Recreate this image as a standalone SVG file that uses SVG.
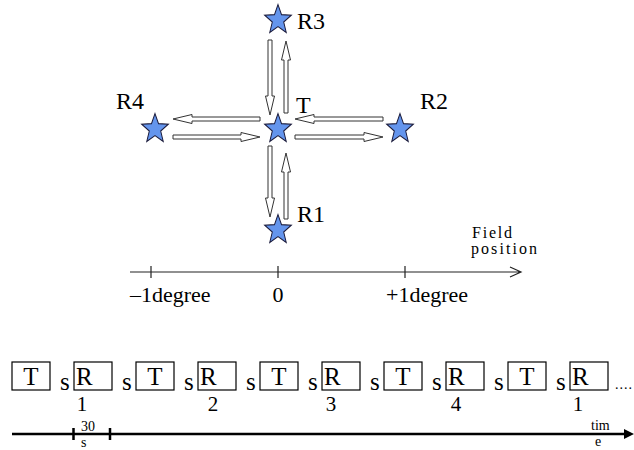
<svg xmlns="http://www.w3.org/2000/svg" width="634" height="450" viewBox="0 0 634 450" font-family="'Liberation Serif', 'Times New Roman', 'DejaVu Serif', serif">
<style>
text{font-family:'Liberation Serif','Times New Roman','DejaVu Serif',serif;fill:#000}
.lbl{font-size:24px}
.star{fill:#6495ed;stroke:#1a1a3a;stroke-width:1}
.arr{fill:#fff;stroke:#333;stroke-width:1;stroke-linejoin:miter}
.box{fill:#fff;stroke:#000;stroke-width:1.2}
.bt{font-size:25px}
.ax{stroke:#222;stroke-width:1.2;fill:none}
.tax{stroke:#000;stroke-width:2.5;fill:none}
.sm{font-size:14px}
.ax-t{font-size:22px}
.num{font-size:21px}
.fp{font-size:16px}
</style>
<defs>
<path id="st" d="M0,-14 L3.53,-4.85 L13.31,-4.33 L5.71,1.85 L8.23,11.33 L0,6 L-8.23,11.33 L-5.71,1.85 L-13.31,-4.33 L-3.53,-4.85 Z"/>
</defs>
<g id="R3"><use href="#st" class="star" transform="translate(278,20) scale(1,1.1)"/><text class="lbl" x="297" y="29">R3</text></g>
<g id="T"><use href="#st" class="star" transform="translate(278,129) scale(1,1.1)"/><text class="lbl" x="296" y="113">T</text></g>
<g id="R4"><use href="#st" class="star" transform="translate(155,129) scale(1,1.1)"/><text class="lbl" x="116" y="109">R4</text></g>
<g id="R2"><use href="#st" class="star" transform="translate(400,129) scale(1,1.1)"/><text class="lbl" x="420" y="109">R2</text></g>
<g id="R1"><use href="#st" class="star" transform="translate(278,230) scale(1,1.1)"/><text class="lbl" x="297" y="222">R1</text></g>
<g id="connectors">
<polygon class="arr" points="260,117 192,117 192,114.5 173,119 192,123.5 192,121 260,121"/>
<polygon class="arr" points="173,135 241,135 241,132.5 260,137 241,141.5 241,139 173,139"/>
<polygon class="arr" points="383,117 314,117 314,114.5 295,119 314,123.5 314,121 383,121"/>
<polygon class="arr" points="295,135 364,135 364,132.5 383,137 364,141.5 364,139 295,139"/>
<polygon class="arr" points="268,40 268,96 265.5,96 270,115 274.5,96 272,96 272,40"/>
<polygon class="arr" points="284,113 284,60 281.5,60 286,41 290.5,60 288,60 288,113"/>
<polygon class="arr" points="268,146 268,198 265.5,198 270,217 274.5,198 272,198 272,146"/>
<polygon class="arr" points="284,219 284,172 281.5,172 286,153 290.5,172 288,172 288,219"/>
</g>
<g id="field-axis">
<path class="ax" d="M130,272 H521 M510,267 L521,272 L510,277 M151,266 V278 M278,266 V278 M405,266 V278"/>
<text class="ax-t" x="130" y="302">–1degree</text>
<text class="ax-t" x="278" y="302" text-anchor="middle">0</text>
<text class="ax-t" x="386" y="302">+1degree</text>
<text class="fp" x="472" y="238" textLength="40">Field</text>
<text class="fp" x="471" y="254" textLength="66">position</text>
</g>
<g id="timeline">
<g id="b1"><rect class="box" x="12" y="362" width="38" height="28"/><text class="bt" x="31" y="385" text-anchor="middle">T</text></g>
<text class="bt" x="60" y="390">s</text>
<g id="b2"><rect class="box" x="74" y="362" width="38" height="28"/><text class="bt" x="76" y="385">R</text><text class="num" x="82" y="411" text-anchor="middle">1</text></g>
<text class="bt" x="122" y="390">s</text>
<g id="b3"><rect class="box" x="136" y="362" width="38" height="28"/><text class="bt" x="155" y="385" text-anchor="middle">T</text></g>
<text class="bt" x="184" y="390">s</text>
<g id="b4"><rect class="box" x="198" y="362" width="38" height="28"/><text class="bt" x="200" y="385">R</text><text class="num" x="213" y="411" text-anchor="middle">2</text></g>
<text class="bt" x="246" y="390">s</text>
<g id="b5"><rect class="box" x="260" y="362" width="38" height="28"/><text class="bt" x="279" y="385" text-anchor="middle">T</text></g>
<text class="bt" x="308" y="390">s</text>
<g id="b6"><rect class="box" x="322" y="362" width="38" height="28"/><text class="bt" x="324" y="385">R</text><text class="num" x="331" y="411" text-anchor="middle">3</text></g>
<text class="bt" x="370" y="390">s</text>
<g id="b7"><rect class="box" x="384" y="362" width="38" height="28"/><text class="bt" x="403" y="385" text-anchor="middle">T</text></g>
<text class="bt" x="432" y="390">s</text>
<g id="b8"><rect class="box" x="446" y="362" width="38" height="28"/><text class="bt" x="448" y="385">R</text><text class="num" x="456" y="411" text-anchor="middle">4</text></g>
<text class="bt" x="494" y="390">s</text>
<g id="b9"><rect class="box" x="508" y="362" width="38" height="28"/><text class="bt" x="527" y="385" text-anchor="middle">T</text></g>
<text class="bt" x="556" y="390">s</text>
<g id="b10"><rect class="box" x="570" y="362" width="38" height="28"/><text class="bt" x="572" y="385">R</text><text class="num" x="578" y="411" text-anchor="middle">1</text></g>
<text style="font-size:14px;letter-spacing:1px" x="615" y="389">....</text>
<path class="tax" d="M12,434 H626 M73.5,428 V440 M110,428 V440"/>
<polygon points="624,429 634,434 624,439" fill="#000"/>
<text class="sm" x="81" y="431">30</text>
<text class="sm" x="81" y="447">s</text>
<text class="sm" x="591" y="430">tim</text>
<text class="sm" x="595" y="446">e</text>
</g>
</svg>
